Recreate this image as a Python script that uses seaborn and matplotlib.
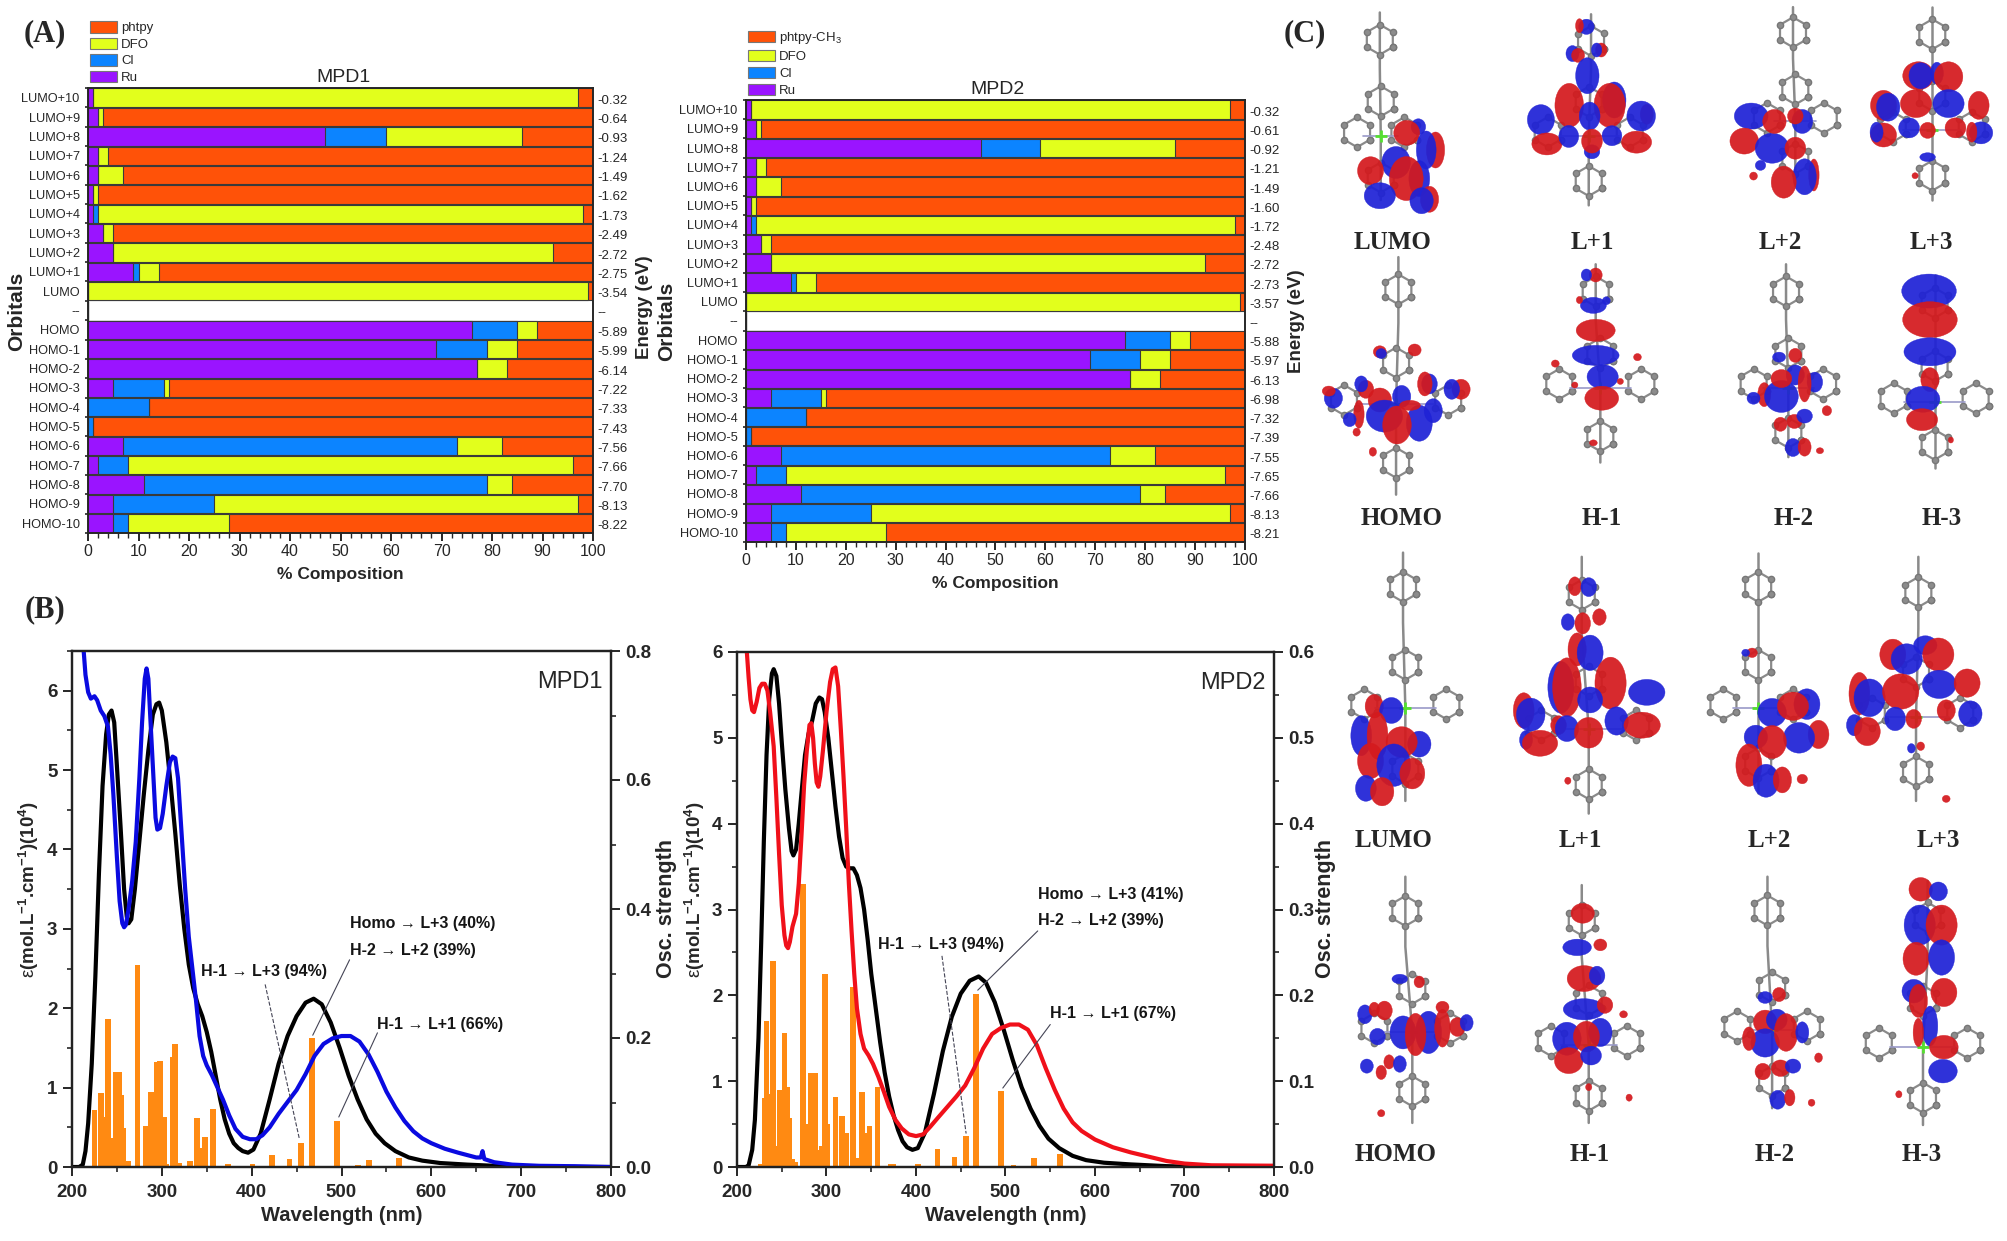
import matplotlib
matplotlib.use("Agg")
import matplotlib.pyplot as plt
import seaborn as sns
import numpy as np
from matplotlib.lines import Line2D
from matplotlib.patches import Ellipse, Patch
from matplotlib.ticker import MultipleLocator

sns.set_style("ticks")
plt.rcParams["font.family"] = ["Liberation Sans", "DejaVu Sans"]
plt.rcParams["mathtext.fontset"] = "custom"
plt.rcParams["mathtext.rm"] = "Liberation Sans"
plt.rcParams["mathtext.it"] = "Liberation Sans"
plt.rcParams["mathtext.bf"] = "Liberation Sans:bold"

W, H = 2008, 1241

# ---- (A) orbital composition ----
orbitals = ["LUMO+10", "LUMO+9", "LUMO+8", "LUMO+7", "LUMO+6", "LUMO+5", "LUMO+4", "LUMO+3",
            "LUMO+2", "LUMO+1", "LUMO", "--", "HOMO", "HOMO-1", "HOMO-2", "HOMO-3", "HOMO-4",
            "HOMO-5", "HOMO-6", "HOMO-7", "HOMO-8", "HOMO-9", "HOMO-10"]
ru = [1, 2, 47, 2, 2, 1, 1, 3, 5, 9, 0, 0, 76, 69, 77, 5, 0, 0, 7, 2, 11, 5, 5]
cl = [0, 0, 12, 0, 0, 0, 1, 0, 0, 1, 0, 0, 9, 10, 0, 10, 12, 1, 66, 6, 68, 20, 3]
dfo = [96, 1, 27, 2, 5, 1, 96, 2, 87, 4, 99, 0, 4, 6, 6, 1, 0, 0, 9, 88, 5, 72, 20]
ligand = [3, 97, 14, 96, 93, 98, 2, 95, 8, 86, 1, 0, 11, 15, 17, 84, 88, 99, 18, 4, 16, 3, 72]
energy_mpd1 = ["-0.32", "-0.64", "-0.93", "-1.24", "-1.49", "-1.62", "-1.73", "-2.49", "-2.72", "-2.75", "-3.54", "--",
               "-5.89", "-5.99", "-6.14", "-7.22", "-7.33", "-7.43", "-7.56", "-7.66", "-7.70", "-8.13", "-8.22"]
energy_mpd2 = ["-0.32", "-0.61", "-0.92", "-1.21", "-1.49", "-1.60", "-1.72", "-2.48", "-2.72", "-2.73", "-3.57", "--",
               "-5.88", "-5.97", "-6.13", "-6.98", "-7.32", "-7.39", "-7.55", "-7.65", "-7.66", "-8.13", "-8.21"]

# ---- (B) spectra ----
nm_calc1 = [200, 208, 212, 215, 218, 222, 226, 230, 234, 238, 241, 244, 247, 250, 254, 258, 261, 263, 266, 270, 275, 280,
            285, 290, 294, 297, 300, 305, 310, 315, 320, 325, 330, 335, 340, 345, 350, 355, 360, 365, 370, 375, 380, 385,
            390, 396, 402, 410, 420, 430, 440, 450, 460, 469, 478, 488, 498, 508, 518, 528, 538, 548, 560, 575, 590, 610,
            640, 680, 720, 800]
eps_calc1 = [0, 0, 0.03, 0.2, 0.55, 1.3, 2.4, 3.7, 4.8, 5.45, 5.7, 5.75, 5.6, 5.05, 4.3, 3.5, 3.15, 3.07, 3.12, 3.5, 4.1, 4.7,
             5.25, 5.7, 5.83, 5.85, 5.75, 5.35, 4.8, 4.2, 3.55, 3.0, 2.55, 2.25, 2.05, 1.9, 1.7, 1.45, 1.15, 0.85, 0.6, 0.42, 0.3, 0.24,
             0.2, 0.18, 0.22, 0.42, 0.85, 1.3, 1.65, 1.9, 2.07, 2.12, 2.05, 1.82, 1.5, 1.15, 0.85, 0.6, 0.42, 0.3, 0.2, 0.12, 0.08, 0.05,
             0.03, 0.01, 0, 0]
nm_exp1 = [213, 215, 218, 221, 225, 228, 232, 236, 240, 243, 246, 250, 253, 256, 258, 260, 263, 267, 271, 275, 278, 281, 283, 285,
           287, 290, 293, 295, 298, 301, 305, 309, 312, 315, 318, 322, 326, 330, 335, 338, 342, 346, 350, 356, 362, 368, 375, 382,
           390, 398, 405, 412, 420, 430, 440, 450, 460, 470, 480, 490, 500, 510, 520, 530, 540, 550, 560, 570, 580, 590, 600, 615,
           630, 650, 655, 657, 659, 670, 690, 720, 760, 800]
eps_exp1 = [6.5, 6.2, 5.98, 5.9, 5.93, 5.88, 5.75, 5.68, 5.55, 5.2, 4.7, 3.9, 3.35, 3.07, 3.02, 3.05, 3.25, 3.6, 4.1, 4.9, 5.6, 6.15, 6.28, 6.15,
            5.7, 5.05, 4.4, 4.25, 4.27, 4.45, 4.8, 5.1, 5.17, 5.15, 4.9, 4.2, 3.5, 2.9, 2.4, 2.1, 1.65, 1.4, 1.28, 1.15, 1.0, 0.85, 0.65, 0.48,
            0.38, 0.35, 0.35, 0.4, 0.5, 0.67, 0.82, 0.97, 1.17, 1.4, 1.55, 1.62, 1.65, 1.65, 1.58, 1.42, 1.2, 0.95, 0.75, 0.58, 0.45, 0.36, 0.3, 0.23,
            0.18, 0.12, 0.12, 0.2, 0.1, 0.06, 0.03, 0.015, 0.01, 0]
stick_nm1 = [225, 232, 234, 240, 244, 249, 252, 255, 257, 262, 273, 282, 288, 291, 294, 298, 302, 305, 312, 315, 319, 331, 339, 342,
             348, 357, 374, 401, 423, 442, 455, 467, 495, 510, 518, 531, 564, 644, 721]
stick_f1 = [0.088, 0.115, 0.077, 0.23, 0.045, 0.147, 0.147, 0.112, 0.06, 0.009, 0.313, 0.064, 0.116, 0.04, 0.163, 0.165, 0.077, 0.004, 0.17, 0.19, 0.006, 0.01, 0.076, 0.03,
            0.047, 0.09, 0.004, 0.004, 0.018, 0.013, 0.037, 0.2, 0.072, 0.001, 0.003, 0.011, 0.014, 0.002, 0.001]

nm_calc2 = [200, 210, 213, 217, 220, 224, 227, 230, 233, 236, 239, 241, 244, 247, 250, 254, 258, 261, 263, 266, 269, 272, 276, 280,
            284, 288, 292, 295, 298, 302, 306, 310, 314, 318, 322, 326, 330, 334, 338, 342, 346, 350, 355, 360, 365, 370, 375, 380,
            385, 390, 396, 402, 410, 420, 430, 440, 450, 460, 470, 478, 488, 498, 508, 518, 528, 538, 548, 560, 575, 590, 610, 640,
            680, 720, 800]
eps_calc2 = [0, 0, 0.02, 0.2, 0.55, 1.5, 2.6, 3.8, 4.8, 5.45, 5.75, 5.8, 5.72, 5.4, 4.95, 4.4, 3.95, 3.68, 3.63, 3.7, 4.0, 4.35, 4.8, 5.05,
             5.2, 5.4, 5.47, 5.45, 5.3, 5.0, 4.6, 4.2, 3.85, 3.6, 3.5, 3.48, 3.48, 3.4, 3.25, 3.0, 2.65, 2.25, 1.85, 1.45, 1.1, 0.82, 0.6, 0.43,
             0.3, 0.23, 0.2, 0.22, 0.4, 0.85, 1.35, 1.75, 2.02, 2.17, 2.22, 2.15, 1.92, 1.6, 1.25, 0.93, 0.68, 0.48, 0.33, 0.22, 0.13, 0.08, 0.05, 0.03,
             0.01, 0, 0]
nm_exp2 = [211, 213, 215, 217, 219, 222, 225, 228, 231, 234, 237, 241, 244, 247, 250, 253, 255, 257, 259, 262, 266, 269, 272, 275, 278,
           281, 283, 285, 287, 289, 291, 293, 296, 300, 304, 307, 310, 313, 316, 319, 322, 325, 328, 331, 334, 338, 342, 347, 352, 358,
           364, 370, 377, 384, 392, 400, 408, 416, 425, 435, 445, 455, 465, 475, 485, 495, 505, 515, 525, 535, 545, 555, 565, 575, 585,
           600, 620, 640, 660, 680, 700, 730, 800]
eps_exp2 = [6.0, 5.7, 5.45, 5.32, 5.3, 5.42, 5.58, 5.63, 5.63, 5.55, 5.3, 4.9, 4.3, 3.65, 3.05, 2.7, 2.58, 2.55, 2.62, 2.8, 2.95, 3.3, 3.85, 4.45, 4.85,
            5.15, 5.17, 5.0, 4.7, 4.48, 4.43, 4.55, 4.85, 5.3, 5.65, 5.8, 5.82, 5.6, 5.1, 4.55, 3.95, 3.3, 2.75, 2.25, 1.85, 1.55, 1.38, 1.3, 1.2, 1.05,
            0.88, 0.7, 0.55, 0.45, 0.38, 0.36, 0.38, 0.47, 0.58, 0.7, 0.82, 0.95, 1.15, 1.38, 1.55, 1.62, 1.66, 1.66, 1.6, 1.42, 1.15, 0.9, 0.68, 0.52, 0.42,
            0.32, 0.23, 0.17, 0.12, 0.07, 0.04, 0.02, 0.015]
stick_nm2 = [227, 231, 233, 235, 240, 244, 248, 253, 256, 258, 262, 265, 274, 276, 282, 287, 292, 295, 298, 301, 310, 317, 322, 330, 333,
             336, 340, 342, 348, 357, 372, 375, 402, 424, 443, 456, 467, 495, 509, 517, 532, 561, 645, 725]
stick_f2 = [0.004, 0.08, 0.17, 0.085, 0.24, 0.025, 0.09, 0.156, 0.093, 0.057, 0.009, 0.006, 0.33, 0.05, 0.11, 0.11, 0.02, 0.025, 0.225, 0.05, 0.082, 0.06, 0.04, 0.21, 0.01,
            0.004, 0.087, 0.04, 0.048, 0.093, 0.004, 0.004, 0.004, 0.021, 0.012, 0.036, 0.202, 0.088, 0.002, 0.001, 0.01, 0.015, 0.002, 0.001]

# ---- (C) isosurface sketch: colour, x, y, w, h, in crop pixels ----
lobes_top = [
    ("b", 298, 355, 28, 40), ("r", 273, 372, 50, 62), ("r", 335, 420, 35, 90), ("b", 315, 420, 38, 95), ("b", 250, 455, 55, 80),
    ("r", 195, 478, 50, 70), ("b", 300, 500, 40, 90), ("r", 272, 500, 65, 110), ("b", 215, 548, 60, 65), ("r", 322, 558, 35, 65), ("b", 305, 562, 45, 65),
    ("b", 660, 75, 30, 38), ("r", 645, 72, 15, 35), ("b", 630, 150, 25, 40), ("r", 642, 155, 25, 35), ("r", 692, 140, 22, 35), ("b", 682, 140, 20, 35),
    ("b", 662, 212, 45, 90), ("r", 623, 295, 55, 110), ("b", 720, 280, 45, 90), ("r", 710, 295, 60, 110), ("b", 562, 335, 52, 75), ("r", 790, 320, 25, 50),
    ("b", 778, 325, 55, 75), ("b", 667, 325, 40, 70), ("r", 575, 403, 58, 55), ("b", 622, 382, 38, 55), ("b", 715, 380, 38, 50), ("r", 768, 398, 58, 55),
    ("b", 672, 425, 30, 35), ("r", 672, 395, 40, 60),
    ("b", 1015, 325, 65, 65), ("r", 1000, 395, 55, 65), ("b", 1060, 415, 65, 75), ("r", 1065, 340, 45, 60), ("r", 1110, 415, 40, 55), ("b", 1125, 340, 40, 60),
    ("r", 1110, 325, 30, 40), ("r", 1150, 490, 20, 80), ("b", 1130, 495, 45, 90), ("r", 1085, 510, 48, 80), ("b", 1035, 463, 20, 25), ("r", 1020, 493, 15, 20),
    ("r", 1375, 212, 60, 70), ("b", 1380, 212, 45, 65), ("b", 1415, 205, 25, 55), ("r", 1440, 215, 55, 75), ("r", 1300, 295, 50, 75), ("b", 1310, 300, 45, 70),
    ("r", 1370, 290, 60, 70), ("b", 1440, 290, 60, 70), ("r", 1505, 295, 40, 70), ("r", 1300, 378, 50, 60), ("b", 1355, 358, 40, 50), ("b", 1285, 370, 25, 50),
    ("r", 1395, 365, 30, 40), ("r", 1455, 358, 40, 50), ("b", 1510, 372, 45, 55), ("r", 1490, 370, 20, 50), ("b", 1395, 440, 30, 22), ("r", 1368, 492, 12, 15),
    ("b", 115, 1115, 35, 50), ("r", 105, 1095, 25, 25), ("r", 390, 1090, 35, 50), ("b", 370, 1090, 30, 50), ("b", 322, 1075, 30, 50), ("r", 185, 1090, 30, 45),
    ("r", 215, 1120, 45, 60), ("b", 175, 1075, 25, 40), ("r", 170, 1160, 20, 70), ("b", 150, 1175, 25, 35), ("b", 262, 1110, 35, 55), ("b", 330, 1150, 35, 60),
    ("b", 225, 1165, 70, 80), ("b", 300, 1185, 50, 90), ("r", 252, 1190, 55, 95), ("r", 280, 1135, 40, 25), ("r", 215, 985, 25, 30), ("b", 218, 990, 20, 25),
    ("r", 290, 980, 25, 30), ("r", 200, 1265, 14, 22), ("r", 312, 1075, 28, 60), ("r", 165, 1210, 14, 20),
    ("r", 680, 770, 25, 35), ("b", 660, 770, 20, 30), ("b", 675, 855, 50, 40), ("r", 645, 840, 12, 18), ("b", 703, 842, 15, 20), ("r", 680, 925, 75, 55),
    ("b", 680, 995, 90, 50), ("b", 695, 1055, 60, 60), ("r", 693, 1115, 65, 60), ("r", 593, 1018, 15, 18), ("r", 770, 1000, 15, 18), ("r", 733, 1068, 12, 15),
    ("r", 635, 1078, 12, 15), ("r", 675, 1240, 15, 15),
    ("r", 1110, 995, 25, 35), ("b", 1075, 1000, 25, 25), ("r", 1043, 1105, 25, 60), ("b", 1080, 1110, 65, 80), ("b", 1110, 1050, 35, 50), ("r", 1080, 1060, 40, 45),
    ("b", 1152, 1070, 30, 50), ("r", 1130, 1075, 25, 90), ("b", 1020, 1115, 25, 30), ("r", 1078, 1188, 25, 35), ("r", 1108, 1180, 30, 35), ("b", 1130, 1165, 30, 35),
    ("r", 1178, 1150, 18, 25), ("b", 1105, 1253, 30, 45), ("r", 1130, 1252, 25, 45), ("r", 1163, 1262, 14, 15),
    ("b", 1398, 815, 105, 85), ("r", 1400, 895, 105, 90), ("b", 1400, 985, 100, 70), ("r", 1400, 1063, 35, 60), ("b", 1385, 1118, 65, 65), ("r", 1383, 1175, 60, 55),
    ("r", 1445, 1232, 10, 15),
]
lobes_bottom = [
    ("r", 203, 395, 35, 50), ("b", 240, 405, 45, 55), ("b", 175, 465, 40, 85), ("r", 210, 465, 40, 100), ("b", 300, 485, 45, 55), ("r", 262, 480, 60, 65),
    ("r", 195, 525, 50, 75), ("b", 245, 535, 65, 90), ("r", 285, 555, 48, 65), ("b", 185, 590, 40, 55), ("r", 220, 598, 45, 60),
    ("r", 635, 110, 25, 40), ("b", 665, 112, 30, 40), ("b", 620, 195, 25, 35), ("r", 688, 183, 26, 35), ("r", 652, 198, 30, 45), ("r", 640, 260, 35, 70),
    ("b", 668, 268, 50, 75), ("b", 605, 350, 50, 110), ("r", 618, 350, 55, 125), ("r", 712, 340, 60, 110), ("b", 790, 362, 70, 55), ("b", 668, 380, 48, 55),
    ("r", 525, 405, 40, 75), ("b", 540, 415, 55, 70), ("b", 530, 475, 25, 40), ("r", 560, 483, 68, 55), ("r", 600, 440, 30, 40), ("b", 618, 448, 45, 55),
    ("b", 725, 430, 45, 60), ("r", 665, 458, 55, 65), ("r", 780, 440, 70, 55), ("r", 620, 572, 12, 15),
    ("r", 1017, 268, 20, 20), ("b", 1003, 268, 15, 15), ("b", 1060, 410, 55, 60), ("b", 1135, 390, 50, 65), ("r", 1105, 395, 60, 60), ("b", 1025, 468, 45, 50),
    ("r", 1160, 462, 40, 60), ("b", 1118, 470, 60, 65), ("r", 1060, 480, 55, 70), ("r", 1010, 535, 50, 90), ("b", 1047, 572, 50, 70), ("r", 1082, 570, 35, 55),
    ("r", 1125, 568, 20, 20),
    ("r", 1320, 272, 50, 65), ("b", 1390, 250, 45, 40), ("b", 1350, 283, 60, 65), ("r", 1418, 272, 60, 70), ("r", 1248, 365, 40, 90), ("b", 1270, 375, 60, 80),
    ("b", 1420, 343, 65, 60), ("r", 1337, 360, 70, 75), ("r", 1480, 340, 50, 60), ("b", 1237, 440, 30, 45), ("r", 1265, 455, 50, 60), ("b", 1325, 425, 40, 50),
    ("r", 1365, 425, 30, 40), ("r", 1435, 405, 35, 45), ("b", 1487, 413, 45, 55), ("r", 1380, 490, 15, 18), ("b", 1360, 495, 15, 20), ("r", 1435, 615, 15, 15),
    ("b", 183, 1127, 28, 40), ("r", 225, 1118, 30, 40), ("r", 203, 1115, 20, 30), ("b", 265, 1170, 50, 70), ("b", 320, 1170, 50, 90), ("r", 292, 1175, 40, 90),
    ("b", 210, 1180, 30, 35), ("r", 350, 1160, 30, 80), ("r", 382, 1157, 30, 40), ("b", 402, 1147, 25, 35), ("r", 218, 1265, 20, 30), ("b", 187, 1250, 25, 30),
    ("r", 235, 1240, 20, 30), ("b", 258, 1245, 25, 35), ("r", 300, 1050, 20, 25), ("b", 258, 1043, 30, 20), ("r", 218, 1362, 14, 15), ("r", 350, 1110, 25, 25),
    ("r", 652, 887, 45, 42), ("b", 640, 968, 55, 35), ("r", 690, 962, 25, 25), ("r", 655, 1042, 65, 55), ("b", 683, 1035, 30, 40), ("b", 655, 1115, 80, 45),
    ("r", 700, 1105, 30, 35), ("b", 618, 1185, 55, 70), ("b", 690, 1170, 45, 60), ("r", 660, 1180, 50, 65), ("r", 622, 1237, 55, 55), ("b", 670, 1225, 40, 40),
    ("r", 740, 1127, 15, 15), ("r", 665, 1300, 12, 15), ("r", 752, 1325, 12, 15),
    ("r", 1075, 1080, 25, 30), ("b", 1045, 1087, 28, 25), ("r", 1045, 1145, 45, 50), ("b", 1070, 1140, 40, 45), ("b", 1045, 1195, 55, 60), ("r", 1090, 1170, 45, 80),
    ("r", 1010, 1185, 25, 50), ("b", 1125, 1170, 25, 45), ("r", 1040, 1263, 30, 35), ("r", 1078, 1255, 35, 35), ("b", 1105, 1250, 30, 30), ("r", 1160, 1230, 15, 20),
    ("b", 1072, 1330, 30, 40), ("r", 1098, 1325, 20, 35), ("r", 1145, 1337, 13, 15),
    ("r", 1380, 830, 45, 50), ("b", 1418, 835, 35, 40), ("b", 1378, 915, 60, 85), ("r", 1425, 915, 60, 85), ("r", 1370, 995, 50, 70), ("b", 1425, 992, 50, 75),
    ("b", 1365, 1072, 45, 50), ("r", 1430, 1075, 50, 60), ("r", 1375, 1095, 35, 70), ("b", 1400, 1155, 30, 85), ("r", 1375, 1170, 20, 60), ("b", 1428, 1262, 55, 50),
    ("r", 1430, 1205, 55, 50), ("r", 1333, 1317, 12, 15),
]
# axis x, top y, metal x, metal y, bottom y, wing half width
skeleton_top = [(215, 35, 217, 380, 560, 75), (670, 40, 665, 380, 575, 130), (1105, 20, 1110, 340, 500, 90), (1405, 20, 1405, 365, 560, 125),
                (255, 720, 250, 1130, 1385, 165), (680, 740, 690, 1085, 1295, 130), (1090, 740, 1095, 1085, 1280, 110), (1410, 770, 1410, 1125, 1310, 130)]
skeleton_bottom = [(265, 30, 270, 400, 620, 130), (650, 40, 665, 450, 650, 150), (1030, 30, 1030, 400, 600, 110), (1375, 40, 1370, 420, 620, 140),
                   (270, 800, 285, 1170, 1385, 120), (650, 820, 665, 1200, 1385, 120), (1050, 800, 1060, 1165, 1350, 110), (1395, 810, 1385, 1205, 1390, 140)]
names = ["LUMO", "L+1", "L+2", "L+3", "HOMO", "H-1", "H-2", "H-3"]
names_top_pos = [(243, 680), (672, 680), (1078, 680), (1403, 680), (263, 1453), (693, 1453), (1107, 1453), (1425, 1453)]
names_bottom_pos = [(245, 715), (647, 715), (1053, 715), (1418, 715), (249, 1460), (667, 1460), (1066, 1460), (1383, 1460)]

PHTPY, DFO, CL, RU = "#FF5208", "#E2FF1C", "#0C84FF", "#9A14FF"
ORANGE = "#FF8A12"


def px_axes(left, top, right, bottom):
    return fig.add_axes([left / W, 1 - bottom / H, (right - left) / W, (bottom - top) / H])


def composition(rect, title, energies, labels, legend_xy, spacing):
    ax = px_axes(*rect)
    stack = np.array([ru, cl, dfo, ligand], dtype=float).cumsum(axis=0)
    for level, col in zip(stack[::-1], [PHTPY, DFO, CL, RU]):
        sns.barplot(x=level, y=orbitals, orient="h", color=col, saturation=1, width=0.95,
                    edgecolor="#3a3a3a", linewidth=0.8, ax=ax)
    ax.set_xlim(0, 100)
    ax.set_ylim(22.5, -0.5)
    ax.set_title(title, fontsize=14, pad=4, x=0.505)
    ax.set_xlabel("% Composition", fontweight="bold", fontsize=12.5, labelpad=6)
    ax.set_ylabel("")
    ax.xaxis.set_major_locator(MultipleLocator(10))
    ax.xaxis.set_minor_locator(MultipleLocator(2))
    ax.tick_params(axis="x", which="major", length=6, width=1.4, labelsize=11.5, pad=2, direction="out")
    ax.tick_params(axis="x", which="minor", length=3.5, width=1)
    ax.tick_params(axis="y", length=0, labelsize=9.2, pad=6)
    ax.set_yticks(np.arange(-0.5, 22.6, 1), minor=True)
    ax.tick_params(axis="y", which="minor", length=2.5, width=1.2)
    right = ax.twinx()
    right.set_ylim(22.5, -0.5)
    right.set_yticks(np.arange(23) + 0.08, energies)
    right.tick_params(axis="y", length=0, labelsize=9.5, pad=3)
    sns.despine(ax=ax, top=False, right=False)
    for sp in list(ax.spines.values()) + list(right.spines.values()):
        sp.set_linewidth(1.2)
    handles = [Patch(facecolor=c, edgecolor="#777777", lw=0.8) for c in [PHTPY, DFO, CL, RU]]
    fig.legend(handles, labels, loc="upper left", bbox_to_anchor=(legend_xy[0] / W, 1 - legend_xy[1] / H),
               frameon=False, fontsize=9.5, handlelength=2.05, handleheight=0.98, handletextpad=0.3,
               labelspacing=spacing, borderpad=0, borderaxespad=0)
    return ax


def spectrum(rect, ymax, fmax, fstep, nm_calc, eps_calc, nm_exp, eps_exp, exp_col, sticks_x, sticks_y, name, notes, guides):
    ax = px_axes(*rect)
    right = ax.twinx()
    sns.barplot(x=sticks_x, y=sticks_y, native_scale=True, color=ORANGE, saturation=1, width=3.2, linewidth=0, ax=right)
    right.set_ylim(0, fmax)
    right.set_xlim(200, 800)
    ax.set_zorder(right.get_zorder() + 1)
    ax.patch.set_visible(False)
    sns.lineplot(x=nm_calc, y=eps_calc, color="black", linewidth=3, estimator=None, sort=False, ax=ax)
    sns.lineplot(x=nm_exp, y=eps_exp, color=exp_col, linewidth=3, estimator=None, sort=False, ax=ax)
    ax.set_xlim(200, 800)
    ax.set_ylim(0, ymax)
    ax.set_xlabel("Wavelength (nm)", labelpad=3, fontweight="bold", fontsize=14.5)
    ax.set_ylabel("")
    right.set_ylabel("")
    ax.xaxis.set_major_locator(MultipleLocator(100))
    ax.xaxis.set_minor_locator(MultipleLocator(50))
    ax.yaxis.set_major_locator(MultipleLocator(1))
    ax.yaxis.set_minor_locator(MultipleLocator(0.5))
    right.yaxis.set_major_locator(MultipleLocator(fstep))
    right.yaxis.set_minor_locator(MultipleLocator(fstep / 2))
    right.set_yticks(np.arange(0, fmax + 0.001, fstep))
    right.yaxis.set_major_formatter("{x:.1f}")
    for a in (ax, right):
        a.tick_params(which="major", length=6.5, width=1.4, labelsize=13.5, pad=4)
        a.tick_params(which="minor", length=3.5, width=1.2)
        for lab in a.get_xticklabels() + a.get_yticklabels():
            lab.set_fontweight("bold")
        for sp in a.spines.values():
            sp.set_linewidth(1.6)
            sp.set_visible(True)
            sp.set_color("#222222")
    ax.tick_params(axis="x", which="major", pad=6)
    ax.text(0.985, 0.962, name, transform=ax.transAxes, ha="right", va="top", fontsize=17)
    for x, y, s in notes:
        ax.text(x, y, s, fontsize=11.5, fontweight="bold", va="center", color="#151515")
    for x0, y0, x1, y1, ls in guides:
        ax.add_line(Line2D([x0, x1], [y0, y1], color="#444455", lw=0.8, ls=ls))
    return ax


fig = plt.figure(figsize=(W / 100, H / 100), dpi=100)

composition((88, 88, 593, 533), "MPD1", energy_mpd1, ["phtpy", "DFO", "Cl", "Ru"], (90, 21), 0.24)
composition((746, 100, 1245, 542), "MPD2", energy_mpd2, ["phtpy-CH$_3$", "DFO", "Cl", "Ru"], (748, 30), 0.28)

spectrum((72, 651, 611, 1167), 6.5, 0.8, 0.2, nm_calc1, eps_calc1, nm_exp1, eps_exp1, "#0A0AE0", stick_nm1, stick_f1, "MPD1",
         [(509, 3.07, "Homo → L+3 (40%)"), (509, 2.73, "H-2 → L+2 (39%)"), (344, 2.46, "H-1 → L+3 (94%)"), (540, 1.79, "H-1 → L+1 (66%)")],
         [(509, 2.61, 468, 1.66, "-"), (415, 2.3, 453, 0.36, "--"), (540, 1.69, 497, 0.63, "-")])
spectrum((737, 652, 1274, 1167), 6, 0.6, 0.1, nm_calc2, eps_calc2, nm_exp2, eps_exp2, "#F0101A", stick_nm2, stick_f2, "MPD2",
         [(536, 3.18, "Homo → L+3 (41%)"), (536, 2.87, "H-2 → L+2 (39%)"), (358, 2.59, "H-1 → L+3 (94%)"), (550, 1.79, "H-1 → L+1 (67%)")],
         [(536, 2.75, 469, 2.06, "-"), (429, 2.46, 456, 0.39, "--"), (550, 1.66, 497, 0.92, "-")])

# overlay in image pixels for panel letters, rotated labels and the orbital sketches
over = fig.add_axes([0, 0, 1, 1], zorder=10)
over.set_xlim(0, W)
over.set_ylim(H, 0)
over.axis("off")

for x, y, s in [(45, 34, "(A)"), (45, 610, "(B)"), (1305, 34, "(C)")]:
    over.text(x, y, s, family="Liberation Serif", fontweight="bold", fontsize=22, ha="center", va="center")
for x, y, s, fs in [(17, 311, "Orbitals", 15), (645, 307, "Energy (eV)", 13.5), (667, 321, "Orbitals", 15), (1297, 321, "Energy (eV)", 13.5),
                    (667, 908, "Osc. strength", 15.5), (1326, 908, "Osc. strength", 15.5)]:
    over.text(x, y, s, rotation=90, ha="center", va="center", fontweight="bold", fontsize=fs)
eps_label = r"$\varepsilon$(mol.L$^{\mathbf{-1}}$.cm$^{\mathbf{-1}}$)(10$^{\mathbf{4}}$)"
for x, y in [(29, 890), (695, 890)]:
    over.text(x, y, eps_label, rotation=90, ha="center", va="center", fontweight="bold", fontsize=13.5)


def draw_orbitals(lobes, skeletons, labels, label_pos, oy, sy):
    to_x = lambda v: 1280 + v / 2.154
    to_y = lambda v: oy + v / sy
    for ax_x, top, mx, my, bot, wing in skeletons:
        stem_x = [ax_x, ax_x, mx, mx]
        stem_y = [top, top + (my - top) * 0.45, my, bot]
        over.plot([to_x(v) for v in stem_x], [to_y(v) for v in stem_y], color="#8a8a8a", lw=1.8, zorder=2)
        hexes = [(ax_x, top + (my - top) * 0.22), (mx, my - (my - top) * 0.28), (mx - wing * 0.68, my - 10),
                 (mx + wing * 0.68, my - 10), (mx, my + (bot - my) * 0.65)]
        for hx, hy in hexes:
            ang = np.deg2rad(np.arange(30, 391, 60))
            over.plot(to_x(hx) + 15 * np.cos(ang), to_y(hy) + 15 * np.sin(ang), color="#8a8a8a", lw=1.6, marker="o",
                      ms=4.5, mfc="#8c8c8c", mec="#777777", zorder=2)
        over.plot([to_x(mx - wing * 0.5), to_x(mx + wing * 0.5)], [to_y(my), to_y(my)], color="#9a9ac8", lw=1.2, zorder=2)
        over.plot([to_x(mx)], [to_y(my)], marker="+", ms=9, mew=2, color="#55E030", zorder=3)
    for i, (c, x, y, w, h) in enumerate(lobes):
        fc = "#D41A1E" if c == "r" else "#1F22D6"
        over.add_patch(Ellipse((to_x(x), to_y(y)), 1.12 * w / 2.154, 1.12 * h / sy, fc=fc, ec=fc, lw=0.3, alpha=0.93, zorder=4 + i * 0.001))
    for s, (x, y) in zip(labels, label_pos):
        over.text(to_x(x), to_y(y), s, family="Liberation Serif", fontweight="bold", fontsize=18, ha="center", va="center")


draw_orbitals(lobes_top, skeleton_top, names, names_top_pos, 0, 2.8)
draw_orbitals(lobes_bottom, skeleton_bottom, names, names_bottom_pos, 540, 2.376)

fig.savefig("out.png", dpi=100, facecolor="white")
